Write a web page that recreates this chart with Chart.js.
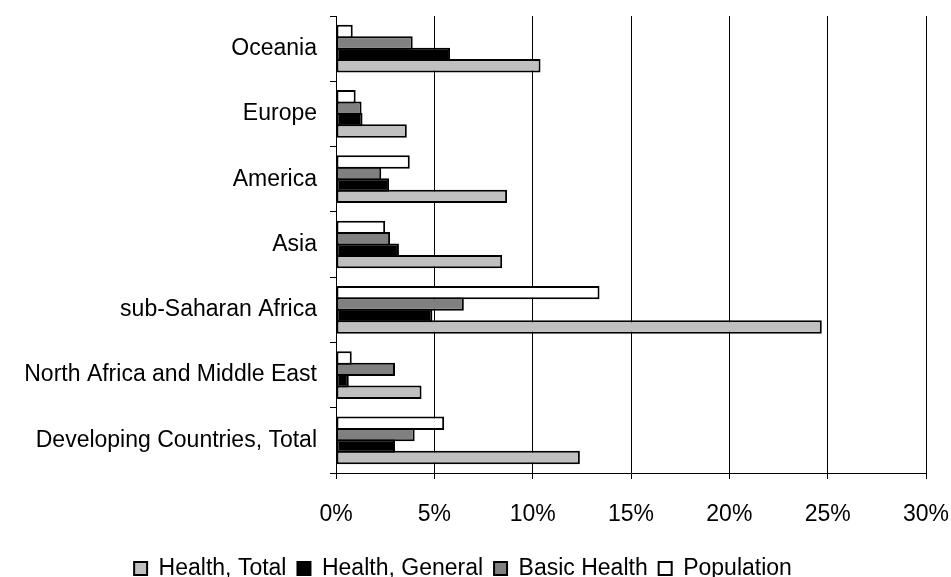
<!DOCTYPE html>
<html>
<head>
<meta charset="utf-8">
<title>Health and population aid by region</title>
<script src="https://cdn.jsdelivr.net/npm/chart.js@4/dist/chart.umd.min.js"></script>
<style>
  html, body { margin: 0; padding: 0; background: #fff; }
  #wrap { width: 951px; height: 577px; }
</style>
</head>
<body>
<div id="wrap"><canvas id="chart" width="951" height="577"></canvas></div>
<script>
// Regions, listed top to bottom
const regions = [
  'Oceania',
  'Europe',
  'America',
  'Asia',
  'sub-Saharan Africa',
  'North Africa and Middle East',
  'Developing Countries, Total'
];

// Shares in percent
const healthTotal   = [10.4, 3.6, 8.7, 8.45, 24.7, 4.35, 12.4];
const healthGeneral = [5.8, 1.35, 2.7, 3.2, 4.9, 0.65, 3.0];
const basicHealth   = [3.9, 1.3, 2.3, 2.75, 6.5, 3.0, 4.0];
const population    = [0.85, 1.0, 3.75, 2.5, 13.4, 0.8, 5.5];

// Axis range and step (percent)
const xMin = 0, xMax = 30, xStep = 5;

Chart.defaults.font.family = "'Liberation Sans', Arial, sans-serif";
Chart.defaults.font.size = 23;
Chart.defaults.color = '#000';

// Bars are slightly thicker than their slot so neighbouring outlines merge
function series(label, data, fill) {
  return {
    label: label,
    data: data,
    backgroundColor: fill,
    borderColor: '#000',
    borderWidth: 2,
    borderSkipped: false,
    categoryPercentage: 0.70,
    barPercentage: 1.175
  };
}

new Chart(document.getElementById('chart'), {
  type: 'bar',
  data: {
    labels: regions,
    // first dataset sits at the top of each group
    datasets: [
      series('Population', population, '#ffffff'),
      series('Basic Health', basicHealth, '#808080'),
      series('Health, General', healthGeneral, '#000000'),
      series('Health, Total', healthTotal, '#c0c0c0')
    ]
  },
  options: {
    indexAxis: 'y',
    responsive: false,
    animation: false,
    layout: { padding: { top: 16, right: 25, bottom: -13, left: 0 } },
    scales: {
      x: {
        min: xMin,
        max: xMax,
        ticks: {
          stepSize: xStep,
          padding: 22,
          callback: v => v + '%'
        },
        grid: { color: '#000', lineWidth: 1, tickLength: 6, drawTicks: true },
        border: { display: true, color: '#000', width: 1 },
        afterFit: s => {
          s.height = 73;
          s.paddingLeft = 0;
          s.paddingRight = 0;
        }
      },
      y: {
        ticks: { padding: 13 },
        grid: { drawOnChartArea: false, color: '#000', tickLength: 6, offset: true },
        border: { display: true, color: '#000', width: 1 },
        afterFit: s => {
          s.width = 336;
          s.paddingTop = 0;
          s.paddingBottom = 0;
        }
      }
    },
    plugins: {
      legend: {
        position: 'bottom',
        reverse: true,
        labels: {
          boxWidth: 13,
          boxHeight: 13,
          padding: 11,
          font: { size: 23 }
        }
      },
      tooltip: { enabled: false }
    }
  }
});
</script>
</body>
</html>
